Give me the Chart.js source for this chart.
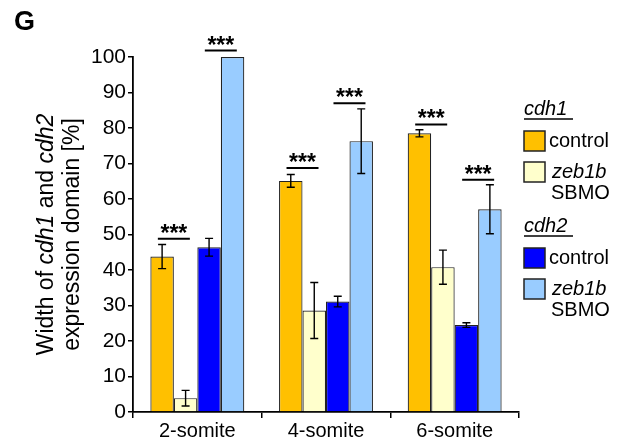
<!DOCTYPE html>
<html>
<head>
<meta charset="utf-8">
<script src="https://cdn.jsdelivr.net/npm/chart.js@4/dist/chart.umd.min.js"></script>
<style>
  html, body { margin: 0; padding: 0; background: #fff; }
  #wrap { position: relative; width: 625px; height: 444px; }
</style>
</head>
<body>
<div id="wrap"><canvas id="c" width="625" height="444"></canvas></div>
<script>
// Somite stages on the x axis
const categories = ['2-somite', '4-somite', '6-somite'];

// Mean domain widths [%] and their error bars
const cdh1Control = [43.8, 65.1, 78.5];
const cdh1ControlErr = [3.4, 1.8, 1.0];
const cdh1Zeb1b = [3.9, 28.6, 40.8];
const cdh1Zeb1bErr = [2.2, 7.9, 4.8];
const cdh2Control = [46.4, 31.1, 24.5];
const cdh2ControlErr = [2.5, 1.5, 0.65];
const cdh2Zeb1b = [100, 76.3, 57.1];
const cdh2Zeb1bErr = [0, 9.1, 6.9];

// Height of each significance bar (control vs. zeb1b SBMO)
const sigCdh1 = [48.8, 68.7, 81.0];
const sigCdh2 = [101.8, 87.0, 65.4];
const sigMark = '***';

// Y axis ticks
const yTicks = [0, 10, 20, 30, 40, 50, 60, 70, 80, 90, 100];

const FONT = 'Liberation Sans, Arial, sans-serif';
const COLORS = ['#FFC000', '#FFFFCC', '#0000FF', '#99CCFF'];

const errors = [cdh1ControlErr, cdh1Zeb1bErr, cdh2ControlErr, cdh2Zeb1bErr];

const errorBars = {
  id: 'errorBars',
  afterDatasetsDraw(chart) {
    const ctx = chart.ctx;
    const y = chart.scales.y;
    ctx.save();
    ctx.strokeStyle = '#000';
    ctx.lineWidth = 1.4;
    chart.data.datasets.forEach((ds, i) => {
      const meta = chart.getDatasetMeta(i);
      meta.data.forEach((bar, j) => {
        const e = errors[i][j];
        if (!e) return;
        const v = ds.data[j];
        const yt = y.getPixelForValue(v + e);
        const yb = y.getPixelForValue(v - e);
        const x = bar.x;
        ctx.beginPath();
        ctx.moveTo(x, yt); ctx.lineTo(x, yb);
        ctx.moveTo(x - 4, yt); ctx.lineTo(x + 4, yt);
        ctx.moveTo(x - 4, yb); ctx.lineTo(x + 4, yb);
        ctx.stroke();
      });
    });
    ctx.restore();
  }
};

const significance = {
  id: 'significance',
  afterDatasetsDraw(chart) {
    const ctx = chart.ctx;
    const y = chart.scales.y;
    const pairs = [[0, 1, sigCdh1], [2, 3, sigCdh2]];
    ctx.save();
    ctx.strokeStyle = '#000';
    ctx.fillStyle = '#000';
    ctx.lineWidth = 2;
    ctx.font = 'bold 23px ' + FONT;
    ctx.textAlign = 'center';
    ctx.textBaseline = 'alphabetic';
    pairs.forEach(([a, b, levels]) => {
      const ma = chart.getDatasetMeta(a).data;
      const mb = chart.getDatasetMeta(b).data;
      levels.forEach((lv, j) => {
        const cx = (ma[j].x + mb[j].x) / 2;
        const py = y.getPixelForValue(lv);
        ctx.beginPath();
        ctx.moveTo(cx - 16, py); ctx.lineTo(cx + 16, py);
        ctx.stroke();
        ctx.fillText(sigMark, cx, py + 2);
      });
    });
    ctx.restore();
  }
};

const decorations = {
  id: 'decorations',
  afterDraw(chart) {
    const ctx = chart.ctx;
    const y = chart.scales.y;
    ctx.save();
    ctx.fillStyle = '#000';

    // Panel letter
    ctx.font = 'bold 27px ' + FONT;
    ctx.textAlign = 'left';
    ctx.textBaseline = 'middle';
    ctx.fillText('G', 14, 23);

    // Rotated two-line y title with italic gene names
    const cy = (y.top + y.bottom) / 2;
    const drawRich = (parts, x) => {
      ctx.save();
      ctx.translate(x, cy);
      ctx.rotate(-Math.PI / 2);
      ctx.textBaseline = 'middle';
      ctx.textAlign = 'left';
      let total = 0;
      parts.forEach(p => {
        ctx.font = (p.i ? 'italic ' : '') + '23px ' + FONT;
        total += ctx.measureText(p.t).width;
      });
      let px = -total / 2;
      parts.forEach(p => {
        ctx.font = (p.i ? 'italic ' : '') + '23px ' + FONT;
        ctx.fillText(p.t, px, 0);
        px += ctx.measureText(p.t).width;
      });
      ctx.restore();
    };
    drawRich([{t: 'Width of '}, {t: 'cdh1', i: true}, {t: ' and '}, {t: 'cdh2', i: true}], 47);
    drawRich([{t: 'expression domain [%]'}], 73);

    // Legend
    const lx = 524;
    const header = (txt, cyH, uy) => {
      ctx.font = 'italic 20px ' + FONT;
      ctx.textAlign = 'left';
      ctx.textBaseline = 'middle';
      ctx.fillText(txt, lx, cyH);
      ctx.lineWidth = 1.5;
      ctx.beginPath();
      ctx.moveTo(lx, uy); ctx.lineTo(lx + 49, uy);
      ctx.stroke();
    };
    const box = (color, top) => {
      ctx.fillStyle = color;
      ctx.fillRect(lx, top, 21, 20);
      ctx.strokeStyle = '#222';
      ctx.lineWidth = 1.5;
      ctx.strokeRect(lx, top, 21, 20);
      ctx.fillStyle = '#000';
    };
    const label = (txt, x, cyL, italic) => {
      ctx.font = (italic ? 'italic ' : '') + '20px ' + FONT;
      ctx.textAlign = 'left';
      ctx.textBaseline = 'middle';
      ctx.fillText(txt, x, cyL);
    };
    ctx.strokeStyle = '#000';
    header('cdh1', 109, 119);
    box(COLORS[0], 131);
    label('control', 549, 141);
    box(COLORS[1], 162);
    label('zeb1b', 552, 172, true);
    label('SBMO', 551, 193);

    ctx.strokeStyle = '#000';
    header('cdh2', 226, 236);
    box(COLORS[2], 248);
    label('control', 549, 258);
    box(COLORS[3], 279);
    label('zeb1b', 552, 289, true);
    label('SBMO', 551, 310);

    ctx.restore();
  }
};

const mk = (label, data, color) => ({
  label, data,
  backgroundColor: color,
  borderColor: '#222',
  borderWidth: 1.2,
  categoryPercentage: 0.73,
  barPercentage: 1.0
});

new Chart(document.getElementById('c'), {
  type: 'bar',
  data: {
    labels: categories,
    datasets: [
      mk('cdh1 control', cdh1Control, COLORS[0]),
      mk('cdh1 zeb1b SBMO', cdh1Zeb1b, COLORS[1]),
      mk('cdh2 control', cdh2Control, COLORS[2]),
      mk('cdh2 zeb1b SBMO', cdh2Zeb1b, COLORS[3])
    ]
  },
  options: {
    responsive: false,
    animation: false,
    devicePixelRatio: 1,
    layout: { padding: { top: 57, right: 106, bottom: 0, left: 0 } },
    plugins: { legend: { display: false }, tooltip: { enabled: false } },
    scales: {
      x: {
        grid: { display: true, drawOnChartArea: false, drawTicks: true, tickLength: 6, color: '#000', lineWidth: 1.5, offset: true },
        border: { display: true, color: '#000', width: 1.8 },
        ticks: { color: '#000', font: { family: FONT, size: 20 }, padding: 1, maxRotation: 0 },
        afterFit(s) { s.height = 32; }
      },
      y: {
        min: 0, max: 100,
        afterBuildTicks(s) { s.ticks = yTicks.map(v => ({ value: v })); },
        grid: { display: true, drawOnChartArea: false, drawTicks: true, tickLength: 5, color: '#000', lineWidth: 1.5 },
        border: { display: true, color: '#000', width: 1.8 },
        ticks: { color: '#000', font: { family: FONT, size: 21 }, padding: 2 },
        afterFit(s) { s.width = 133; }
      }
    }
  },
  plugins: [errorBars, significance, decorations]
});
</script>
</body>
</html>
